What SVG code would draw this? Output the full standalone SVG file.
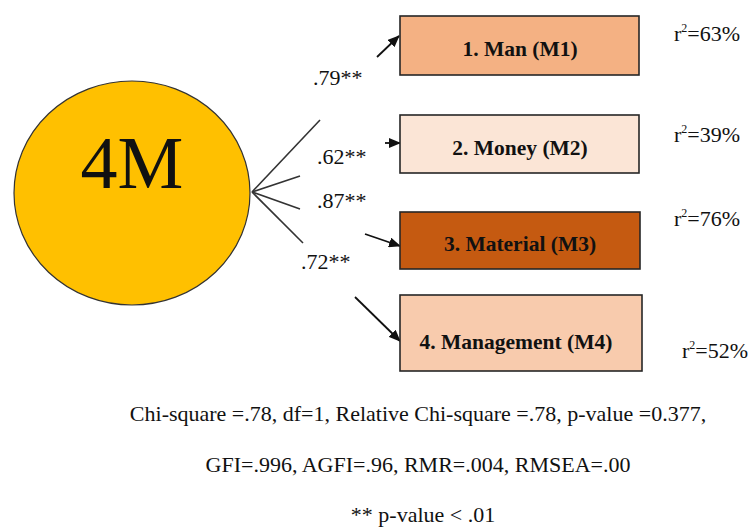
<svg xmlns="http://www.w3.org/2000/svg" width="750" height="530" viewBox="0 0 750 530" font-family="'Liberation Serif', 'Times New Roman', serif">
<style>
.box{stroke:#262626;stroke-width:1.6}
.bt{font-weight:bold;font-size:21.5px;fill:#111;text-anchor:middle}
.t{font-size:22px;fill:#111}
.ln{stroke:#333;stroke-width:1.6;fill:none}
.ar{stroke:#111;stroke-width:1.8;fill:none;marker-end:url(#ah)}
</style>
<defs>
<marker id="ah" markerUnits="userSpaceOnUse" markerWidth="12" markerHeight="10" refX="11" refY="5" orient="auto">
<path d="M0,0 L12,5 L0,10 z" fill="#111"/>
</marker>
</defs>
<rect width="750" height="530" fill="#fff"/>
<g id="connectors">
<line class="ln" x1="252" y1="192" x2="320" y2="120"/>
<line class="ln" x1="252" y1="192" x2="300" y2="176"/>
<line class="ln" x1="252" y1="192" x2="300" y2="209"/>
<line class="ln" x1="252" y1="192" x2="303" y2="243"/>
<line class="ar" x1="377" y1="57" x2="399" y2="36"/>
<line class="ar" x1="385" y1="143" x2="400" y2="143"/>
<line class="ar" x1="365" y1="234" x2="400" y2="246"/>
<line class="ar" x1="355" y1="297" x2="400" y2="341"/>
<text class="t" x="313" y="85" font-family="'Liberation Serif', serif">.79**</text>
<text class="t" x="317" y="164" font-family="'Liberation Serif', serif">.62**</text>
<text class="t" x="317" y="208" font-family="'Liberation Serif', serif">.87**</text>
<text class="t" x="301" y="269" font-family="'Liberation Serif', serif">.72**</text>
</g>
<g id="n4M">
<ellipse cx="132" cy="193" rx="118" ry="112" fill="#FFC000" stroke="#333" stroke-width="1.2"/>
<text x="132" y="188" font-family="'Liberation Serif', serif" font-size="74" fill="#111" text-anchor="middle">4M</text>
</g>
<g id="m1">
<rect class="box" x="400" y="16" width="239" height="59" fill="#F4B183"/>
<text class="bt" x="520" y="56" font-family="'Liberation Serif', serif">1. Man (M1)</text>
<text class="t" x="674" y="41" font-family="'Liberation Serif', serif">r<tspan font-size="12" dy="-9">2</tspan><tspan dy="9">=63%</tspan></text>
</g>
<g id="m2">
<rect class="box" x="400" y="115" width="239" height="58" fill="#FBE5D6"/>
<text class="bt" x="520" y="155" font-family="'Liberation Serif', serif">2. Money (M2)</text>
<text class="t" x="674" y="142" font-family="'Liberation Serif', serif">r<tspan font-size="12" dy="-9">2</tspan><tspan dy="9">=39%</tspan></text>
</g>
<g id="m3">
<rect class="box" x="400" y="212" width="240" height="57" fill="#C55A11"/>
<text class="bt" x="520" y="251" font-family="'Liberation Serif', serif">3. Material (M3)</text>
<text class="t" x="674" y="226" font-family="'Liberation Serif', serif">r<tspan font-size="12" dy="-9">2</tspan><tspan dy="9">=76%</tspan></text>
</g>
<g id="m4">
<rect class="box" x="400" y="295" width="242" height="76" fill="#F8CBAD"/>
<text class="bt" x="516" y="349" font-family="'Liberation Serif', serif">4. Management (M4)</text>
<text class="t" x="682" y="358" font-family="'Liberation Serif', serif">r<tspan font-size="12" dy="-9">2</tspan><tspan dy="9">=52%</tspan></text>
</g>
<g id="notes">
<text class="t" x="418" y="421" text-anchor="middle" font-family="'Liberation Serif', serif">Chi-square =.78, df=1, Relative Chi-square =.78, p-value =0.377,</text>
<text class="t" x="418" y="472" text-anchor="middle" font-family="'Liberation Serif', serif">GFI=.996, AGFI=.96, RMR=.004, RMSEA=.00</text>
<text class="t" x="423" y="522" text-anchor="middle" font-family="'Liberation Serif', serif">** p-value &lt; .01</text>
</g>
</svg>
